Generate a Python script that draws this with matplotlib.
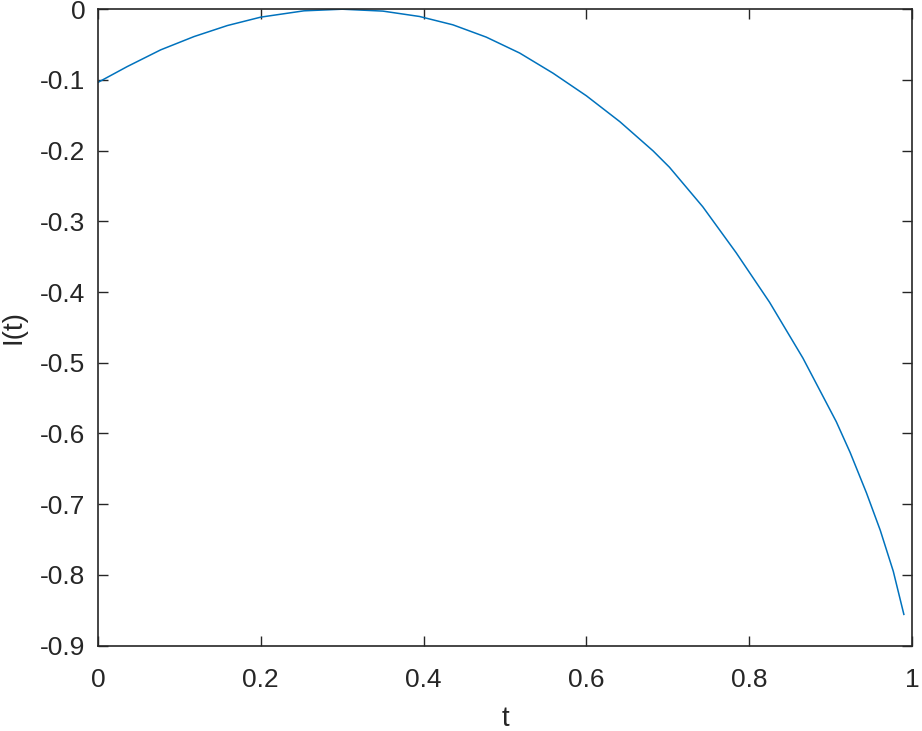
import matplotlib.pyplot as plt

# values
t = [0.000, 0.036, 0.077, 0.118, 0.159, 0.200, 0.253, 0.300, 0.350, 0.395,
     0.436, 0.477, 0.518, 0.559, 0.600, 0.641, 0.682, 0.702, 0.743, 0.784,
     0.825, 0.866, 0.907, 0.924, 0.944, 0.961, 0.977, 0.990]
I = [-0.1035, -0.0811, -0.0575, -0.0387, -0.0231, -0.0112, -0.0023, 0.0, -0.0027, -0.0103,
     -0.0221, -0.0395, -0.0620, -0.0905, -0.1225, -0.159, -0.2005, -0.2235, -0.2795, -0.3445,
     -0.4145, -0.4935, -0.5835, -0.627, -0.684, -0.737, -0.795, -0.856]

xticks = [0, 0.2, 0.4, 0.6, 0.8, 1]
xticklabels = ['0', '0.2', '0.4', '0.6', '0.8', '1']
yticks = [0, -0.1, -0.2, -0.3, -0.4, -0.5, -0.6, -0.7, -0.8, -0.9]
yticklabels = ['0', '-0.1', '-0.2', '-0.3', '-0.4', '-0.5', '-0.6', '-0.7', '-0.8', '-0.9']

plt.rcParams['font.family'] = ['Liberation Sans', 'DejaVu Sans']
axis_col = '#262626'

fig = plt.figure(figsize=(9.22, 7.31), dpi=100)
ax = fig.add_axes([98 / 922, 1 - 645.5 / 731, (912 - 98) / 922, (645.5 - 9.2) / 731])

ax.plot(t, I, color='#0072BD', linewidth=1.1)

ax.set_xlim(0, 1)
ax.set_ylim(-0.9, 0)
ax.set_xticks(xticks)
ax.set_xticklabels(xticklabels)
ax.set_yticks(yticks)
ax.set_yticklabels(yticklabels)

for s in ax.spines.values():
    s.set_color(axis_col)
    s.set_linewidth(1.2)
ax.tick_params(direction='in', length=7, width=1.0, color=axis_col,
               labelcolor=axis_col, labelsize=19, top=True, right=True)
ax.tick_params(axis='x', pad=16)
ax.tick_params(axis='y', pad=9)

ax.set_xlabel('t', fontsize=20, color=axis_col, labelpad=10)
ax.set_ylabel('I(t)', fontsize=20, color=axis_col, labelpad=10)

fig.savefig('out.png', dpi=100)
